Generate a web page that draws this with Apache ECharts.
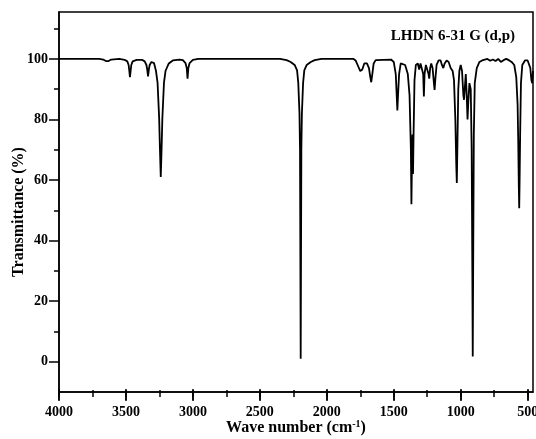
<!DOCTYPE html>
<html><head><meta charset="utf-8">
<script src="https://cdn.jsdelivr.net/npm/echarts@6/dist/echarts.min.js"></script>
<style>html,body{margin:0;padding:0;background:#fff}#c{width:536px;height:439px}</style>
</head><body><div id="c"></div>
<script>
// wavenumber (cm-1)
const waveNumbers = [4000,3700,3670,3650,3640,3630,3610,3550,
 3510,3490,3480,3476,3470,3464,3460,3450,3420,
 3380,3360,3347,3341,3335,3329,3323,3310,
 3290,3276,3264,3252,3246,3240,3234,3228,3216,3204,3180,3150,3100,
 3075,3055,3046,3040,3034,3025,3000,2960,
 2350,2300,2270,2240,2222,2213,2204,2200,2195,2190,2186,2177,2168,2150,2120,2090,2040,
 1800,1785,1765,1750,1735,1720,1700,1685,1675,1668,1660,1650,1635,1520,1500,1485,1478,1473,1468,1460,1448,1435,1415,1395,1382,1372,1368,1363,1360,1356,1352,1345,1335,1320,1310,1300,1290,1280,1275,1270,1260,1250,1240,1235,
 1228,1220,1210,1200,1195,1190,1180,1165,1150,1140,1130,1120,1105,1090,1075,1060,1050,1040,1033,1029,1025,1018,1010,1000,990,980,975,970,962,955,949,944,935,925,918,913,910,907,902,895,880,860,840,800,780,760,740,720,700,680,660,640,620,600,585,575,570,566,563,560,556,550,540,520,500,490,480,472,466,460];
// transmittance (%)
const transmittance = [100,100,99.8,99.3,98.9,99.3,99.8,100,
 99.7,99.2,98,96.5,94,96.5,98,99.2,99.7,
 99.7,99.2,98,96.5,94.2,96.5,98,99,
 98.6,96.1,92.2,80.5,70,61,70,80.5,92.2,96.1,98.5,99.5,99.8,
 99.6,98.6,97,93.5,97,98.6,99.7,100,
 100,99.6,99,98,96.2,92.1,82,70,1,70,82,92.1,96.2,98,99,99.6,100,
 100,99.5,97.5,96,96.5,98.5,98.5,97,94,92.3,95,98.5,99.6,99.8,99,95,88,83,88,95,98.5,99,98,95,88,70,52,70,75,62,75,93,98,98.5,96.5,98.5,98,95,87.6,95,98,97.5,95,93.5,
 97,98.5,97,92,89.8,93,98,99.5,99.5,98,97,98.5,99.5,99,97,96,93,80,65,59,70,90,96,98,96,88,86.5,90,95,88,80,85,92,90,70,30,1.7,30,75,92,97,99,99.5,100,99.4,99.8,99.3,100,99,99.6,100,99.6,99,98,94,85,72,58,50.7,60,75,92,98,99.5,99.5,99,97,93,92,96];

const xMajorTicks = [4000,3500,3000,2500,2000,1500,1000,500];
const yMajorTicks = [0,20,40,60,80,100];
const yMinorTicks = [10,30,50,70,90,110];
const X_START = 4000, X_END = 460;           // left and right edges of the wavenumber axis
const X_MAJOR_STEP = 500, X_MINOR_STEP = 250;
const seriesData = waveNumbers.map((w,i)=>[w, transmittance[i]]);

const FONT = '"Liberation Serif","Times New Roman",serif';
const Y_MIN = -10, Y_MAX = 115.5;
const chart = echarts.init(document.getElementById('c'), null, {renderer:'canvas'});
const blackLine = {color:'#000', width:1.5};
// tick strips: distance from 4000 cm-1, so ticks start at the left edge
const tickStripAxis = (grid, step) => ({type:'value', gridIndex:grid, min:0, max:X_START - X_END, interval:step, position:'top', z:10,
  axisLine:{show:false, onZero:false}, axisTick:{show:false}, axisLabel:{show:false},
  splitLine:{show:true, showMinLine:true, showMaxLine:false, lineStyle:blackLine}});
chart.setOption({
  animation:false,
  grid:[
    {left:59, right:3, top:12, bottom:47, containLabel:false, outerBoundsMode:'none', show:true, borderColor:'#000', borderWidth:1.5},
    {left:59, right:3, top:389, height:12, containLabel:false, outerBoundsMode:'none', show:false},
    {left:59, right:3, top:390, height:7, containLabel:false, outerBoundsMode:'none', show:false}
  ],
  xAxis:[
    {type:'value', gridIndex:0, inverse:true, min:X_END, max:X_START, position:'bottom', offset:0, splitLine:{show:false},
      axisLine:{show:true, onZero:false, lineStyle:blackLine},
      axisTick:{show:true, length:8, lineStyle:blackLine, customValues:xMajorTicks},
      axisLabel:{show:true, customValues:xMajorTicks, formatter:v=>String(v), margin:13, color:'#000', fontFamily:FONT, fontWeight:'bold', fontSize:14, hideOverlap:false}},
    tickStripAxis(1, X_MAJOR_STEP),
    tickStripAxis(2, X_MINOR_STEP)
  ],
  yAxis:[
    {type:'value', gridIndex:0, min:Y_MIN, max:Y_MAX, position:'left', offset:0, splitLine:{show:false},
      axisLine:{show:true, onZero:false, lineStyle:blackLine},
      axisTick:{show:true, length:10, lineStyle:blackLine, customValues:yMajorTicks},
      axisLabel:{show:true, customValues:yMajorTicks, formatter:v=>String(v), margin:11, color:'#000', fontFamily:FONT, fontWeight:'bold', fontSize:14}},
    {type:'value', gridIndex:0, min:Y_MIN, max:Y_MAX, position:'left', offset:0, splitLine:{show:false},
      axisLine:{show:false, onZero:false},
      axisTick:{show:true, length:5, lineStyle:blackLine, customValues:yMinorTicks},
      axisLabel:{show:false}},
    {type:'value', gridIndex:1, min:0, max:1, show:false},
    {type:'value', gridIndex:2, min:0, max:1, show:false}
  ],
  series:[{type:'line', data:seriesData, showSymbol:false, symbol:'none', smooth:false,
    lineStyle:{color:'#000', width:1.8}, xAxisIndex:0, yAxisIndex:0}],
  graphic:[
    {type:'text', right:21, top:29, style:{text:'LHDN 6-31 G (d,p)', fill:'#000', font:'bold 15px '+FONT}},
    {type:'text', x:18.5, y:212, rotation:Math.PI/2, style:{text:'Transmittance (%)', fill:'#000', font:'bold 16px '+FONT, align:'center', verticalAlign:'middle'}},
    {type:'text', x:296, y:428, style:{text:'Wave number (cm{sup|-1})', fill:'#000', font:'bold 16px '+FONT, align:'center', verticalAlign:'middle',
      rich:{sup:{fontSize:10, fontWeight:'bold', fontFamily:FONT, fill:'#000', padding:[0,0,8,0]}}}}
  ]
});
</script></body></html>
